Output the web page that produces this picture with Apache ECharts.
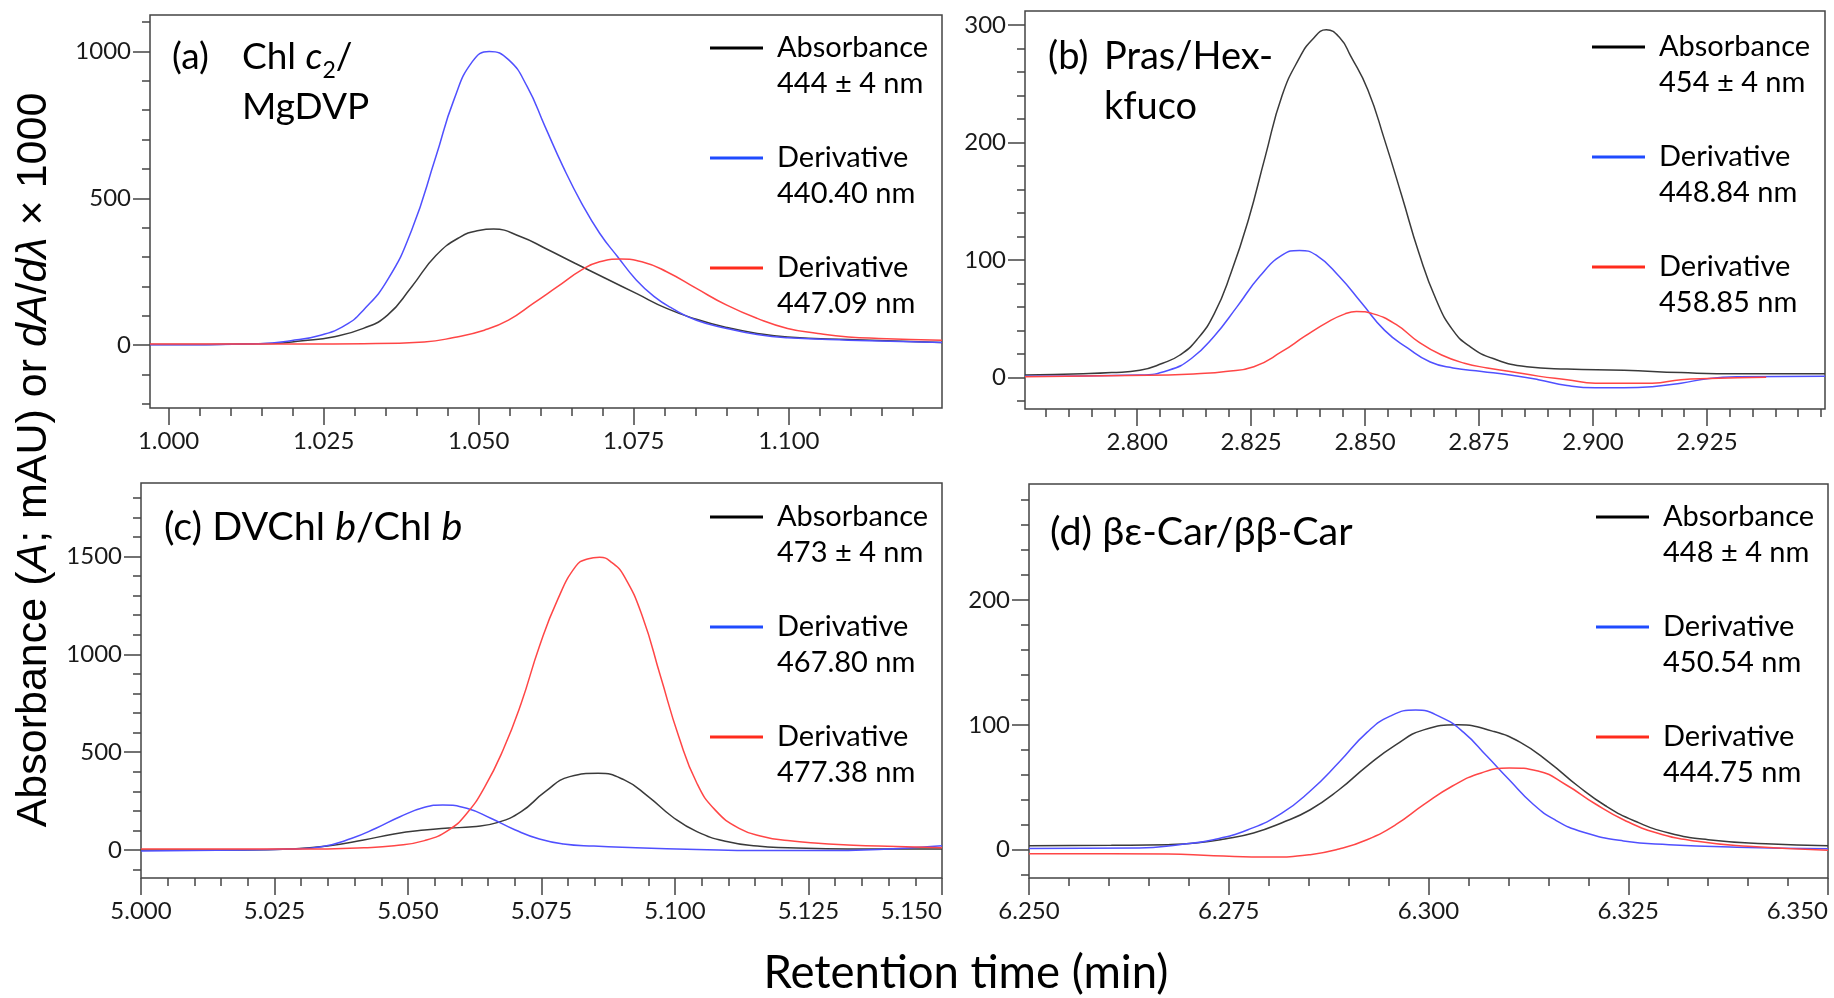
<!DOCTYPE html>
<html lang="en">
<head>
<meta charset="UTF-8">
<title>Derivative chromatograms</title>
<script src="https://cdn.jsdelivr.net/npm/echarts@6/dist/echarts.min.js"></script>
<style>
  * { padding: 0; margin: 0; }
  body { background: #fff; }
  #main { width: 1834px; height: 998px; }
</style>
</head>
<body>
<div id="main"></div>
<script>
  var inkColor = '#1a1a1a';
  var frameColor = '#444';
  var curveColors = ['#3a3a3a', '#5050ff', '#ff4646'];
  var keyColors = ['#000000', '#1f4bff', '#ff2b1c'];
  var labelFont = 'Lato, "Open Sans", sans-serif';

  // (a) Chl c2 / MgDVP   [time (min), value]
  var aNames = ['Absorbance\n444 ± 4 nm', 'Derivative\n440.40 nm', 'Derivative\n447.09 nm'];
  var aBlack = [[0.997, 2], [1.0167, 6], [1.0216, 15], [1.0265, 28], [1.0314, 57], [1.0353, 102], [1.0392, 199],
    [1.0431, 305], [1.0470, 368], [1.0500, 390], [1.0524, 395], [1.0568, 369], [1.0607, 330], [1.0656, 278],
    [1.0705, 227], [1.0754, 176], [1.0803, 125], [1.0851, 88], [1.0900, 60], [1.0949, 40], [1.0998, 28],
    [1.1096, 19], [1.1247, 9]];
  var aBlue = [[0.997, 1], [1.0148, 5], [1.0197, 15], [1.0245, 34], [1.0285, 68], [1.0314, 119], [1.0353, 222],
    [1.0392, 392], [1.0431, 642], [1.0460, 835], [1.0490, 966], [1.0517, 1000], [1.0548, 972], [1.0578, 881],
    [1.0607, 744], [1.0636, 608], [1.0666, 483], [1.0695, 381], [1.0724, 301], [1.0754, 222], [1.0783, 165],
    [1.0812, 125], [1.0851, 85], [1.0900, 57], [1.0949, 36], [1.0998, 25], [1.1096, 17], [1.1247, 9]];
  var aRed = [[0.997, 4], [1.0216, 4], [1.0314, 5], [1.0412, 11], [1.0460, 26], [1.0509, 51], [1.0548, 85],
    [1.0588, 142], [1.0627, 199], [1.0666, 256], [1.0695, 284], [1.0729, 293], [1.0763, 284], [1.0803, 250],
    [1.0851, 193], [1.0900, 136], [1.0949, 91], [1.0998, 57], [1.1047, 40], [1.1096, 28], [1.1145, 23], [1.1247, 17]];
  var aXTicks = [1.000, 1.025, 1.050, 1.075, 1.100];
  var aYTicks = [0, 500, 1000];

  // (b) Pras / Hex-kfuco
  var bNames = ['Absorbance\n454 ± 4 nm', 'Derivative\n448.84 nm', 'Derivative\n458.85 nm'];
  var bBlack = [[2.7754, 2], [2.7881, 3], [2.7944, 4], [2.8006, 6], [2.8056, 12], [2.8094, 19], [2.8131, 32],
    [2.8169, 54], [2.8206, 89], [2.8244, 134], [2.8281, 188], [2.8318, 240], [2.8356, 272], [2.8385, 288],
    [2.8415, 296], [2.8445, 289], [2.8468, 274], [2.8506, 245], [2.8543, 202], [2.8581, 154], [2.8618, 106],
    [2.8656, 66], [2.8693, 40], [2.8731, 26], [2.8781, 16], [2.8855, 9], [2.8943, 7], [2.9068, 6], [2.9193, 4],
    [2.9318, 3], [2.9509, 3]];
  var bBlue = [[2.7754, 1], [2.8006, 2], [2.8069, 6], [2.8119, 16], [2.8169, 35], [2.8219, 60], [2.8269, 86],
    [2.8318, 104], [2.8356, 108], [2.8393, 104], [2.8443, 86], [2.8493, 63], [2.8543, 40], [2.8593, 25],
    [2.8643, 13], [2.8693, 8], [2.8756, 5], [2.8818, 2], [2.8880, -2], [2.8943, -7], [2.9005, -9], [2.9068, -9],
    [2.9130, -8], [2.9193, -5], [2.9255, -1], [2.9318, 0.5], [2.9509, 1]];
  var bRed = [[2.7754, 0.5], [2.8069, 2], [2.8131, 3], [2.8194, 5], [2.8256, 9], [2.8318, 22], [2.8368, 35],
    [2.8418, 47], [2.8456, 54], [2.8481, 56], [2.8518, 54], [2.8568, 45], [2.8618, 30], [2.8668, 19],
    [2.8718, 12], [2.8768, 8], [2.8818, 5], [2.8880, 1], [2.8943, -2], [2.9005, -5], [2.9068, -5], [2.9130, -5],
    [2.9193, -2], [2.9255, -1], [2.9380, 0]];
  var bXTicks = [2.800, 2.825, 2.850, 2.875, 2.900, 2.925];
  var bYTicks = [0, 100, 200, 300];

  // (c) DVChl b / Chl b
  var cNames = ['Absorbance\n473 ± 4 nm', 'Derivative\n467.80 nm', 'Derivative\n477.38 nm'];
  var cBlack = [[5.000, 0], [5.0190, 0], [5.0281, 5], [5.0349, 20], [5.0417, 51], [5.0474, 82], [5.0531, 102],
    [5.0576, 112], [5.0621, 119], [5.0667, 140], [5.0712, 196], [5.0757, 298], [5.0803, 375], [5.0856, 392],
    [5.0905, 358], [5.0950, 273], [5.0995, 170], [5.1041, 94], [5.1097, 43], [5.1154, 20], [5.1211, 12],
    [5.1324, 5], [5.150, 5]];
  var cBlue = [[5.000, -5], [5.0190, 0], [5.0281, 5], [5.0338, 17], [5.0395, 60], [5.0440, 111], [5.0485, 170],
    [5.0531, 218], [5.0565, 230], [5.0610, 213], [5.0655, 162], [5.0701, 102], [5.0746, 56], [5.0791, 31],
    [5.0848, 20], [5.0927, 12], [5.1041, 3], [5.1154, -3], [5.1268, -3], [5.1381, 3], [5.150, 22]];
  var cRed = [[5.000, 5], [5.0190, 5], [5.0304, 5], [5.0417, 12], [5.0474, 22], [5.0531, 48], [5.0576, 102],
    [5.0610, 187], [5.0644, 324], [5.0678, 511], [5.0712, 750], [5.0746, 1040], [5.0780, 1278], [5.0814, 1449],
    [5.0836, 1487], [5.0859, 1496], [5.0882, 1468], [5.0905, 1398], [5.0939, 1193], [5.0973, 886], [5.1007, 580],
    [5.1041, 341], [5.1075, 205], [5.1120, 111], [5.1166, 68], [5.1211, 48], [5.1268, 34], [5.1324, 26],
    [5.1381, 20], [5.150, 12]];
  var cXTicks = [5.000, 5.025, 5.050, 5.075, 5.100, 5.125, 5.150];
  var cYTicks = [0, 500, 1000, 1500];

  // (d) be-Car / bb-Car
  var dNames = ['Absorbance\n448 ± 4 nm', 'Derivative\n450.54 nm', 'Derivative\n444.75 nm'];
  var dBlack = [[6.250, 3.2], [6.2603, 3.5], [6.2674, 4], [6.2709, 5.3], [6.2745, 8.6], [6.2781, 13.4],
    [6.2816, 21.4], [6.2852, 32], [6.2888, 48], [6.2923, 67], [6.2959, 84], [6.2994, 96], [6.3037, 100],
    [6.3080, 95], [6.3115, 86], [6.3151, 70], [6.3187, 51], [6.3222, 35], [6.3258, 23], [6.3301, 13.4],
    [6.3350, 8], [6.3422, 4.8], [6.350, 3.2]];
  var dBlue = [[6.250, 1], [6.2638, 1.3], [6.2688, 4], [6.2731, 8], [6.2774, 16], [6.2816, 29], [6.2852, 47],
    [6.2888, 70], [6.2923, 94], [6.2952, 107], [6.2984, 112], [6.3016, 106], [6.3044, 94], [6.3073, 75],
    [6.3101, 56], [6.3130, 37], [6.3158, 24], [6.3194, 14], [6.3244, 7], [6.3301, 4], [6.3386, 2], [6.350, 0.8]];
  var dRed = [[6.250, -3.2], [6.2603, -3.2], [6.2674, -3.5], [6.2731, -4.8], [6.2802, -5.9], [6.2852, -4],
    [6.2888, 0.5], [6.2923, 8], [6.2959, 20], [6.2994, 36], [6.3030, 51], [6.3066, 61.5], [6.3101, 65.5],
    [6.3137, 63], [6.3172, 52], [6.3208, 37], [6.3244, 24], [6.3286, 13.4], [6.3336, 6.7], [6.3400, 2.7],
    [6.350, -0.5]];
  var dXTicks = [6.250, 6.275, 6.300, 6.325, 6.350];
  var dYTicks = [0, 100, 200];

  function steps(lo, hi, step) {
    var out = [];
    var n = Math.round((hi - lo) / step);
    for (var i = 0; i <= n; i++) out.push(+(lo + i * step).toFixed(4));
    return out;
  }

  var panels = [
    {rect: [150, 15, 792, 393], x: [0.997, 1.1247], y: [-214, 1124], xTicks: aXTicks, yTicks: aYTicks,
      xMinor: steps(1.000, 1.120, 0.005), yMinor: steps(-200, 1100, 100),
      lines: [aBlack, aBlue, aRed], names: aNames, key: [710, -6], lastAtEdge: false},
    {rect: [1025, 11, 800, 398], x: [2.7754, 2.9509], y: [-27, 312], xTicks: bXTicks, yTicks: bYTicks,
      xMinor: steps(2.780, 2.950, 0.005), yMinor: steps(-20, 300, 20),
      lines: [bBlack, bBlue, bRed], names: bNames, key: [1592, -7], lastAtEdge: false},
    {rect: [141, 483, 801, 395], x: [5.000, 5.150], y: [-143, 1875], xTicks: cXTicks, yTicks: cYTicks,
      xMinor: steps(5.000, 5.150, 0.005), yMinor: steps(-100, 1800, 100),
      lines: [cBlack, cBlue, cRed], names: cNames, key: [710, 463], lastAtEdge: true},
    {rect: [1029, 484, 799, 394], x: [6.250, 6.350], y: [-22.7, 293], xTicks: dXTicks, yTicks: dYTicks,
      xMinor: steps(6.250, 6.350, 0.005), yMinor: steps(-20, 280, 20),
      lines: [dBlack, dBlue, dRed], names: dNames, key: [1596, 463], lastAtEdge: true}
  ];

  var tickLine = {color: frameColor, width: 1.5};
  var tickText = {fontFamily: labelFont, fontSize: 24, color: inkColor};
  var keyText = {fontFamily: labelFont, fontSize: 29, lineHeight: 36, color: '#000'};

  var grid = [], xAxis = [], yAxis = [], series = [], legend = [];
  panels.forEach(function (p, i) {
    grid.push({left: p.rect[0], top: p.rect[1], width: p.rect[2], height: p.rect[3], outerBoundsMode: 'none',
      show: true, borderColor: frameColor, borderWidth: 1.5, backgroundColor: 'transparent'});
    [true, false].forEach(function (major) {
      xAxis.push({
        type: 'value', gridIndex: i, min: p.x[0], max: p.x[1], position: 'bottom',
        axisLine: {show: false, onZero: false}, splitLine: {show: false},
        axisTick: {show: true, length: major ? 17 : 8, customValues: major ? p.xTicks : p.xMinor, lineStyle: tickLine},
        axisLabel: major ? Object.assign({show: true, customValues: p.xTicks, margin: 21,
          alignMaxLabel: p.lastAtEdge ? 'right' : null,
          formatter: function (v) { return v.toFixed(3); }}, tickText) : {show: false}
      });
      yAxis.push({
        type: 'value', gridIndex: i, min: p.y[0], max: p.y[1], position: 'left',
        axisLine: {show: false, onZero: false}, splitLine: {show: false},
        axisTick: {show: true, length: major ? 17 : 8, customValues: major ? p.yTicks : p.yMinor, lineStyle: tickLine},
        axisLabel: major ? Object.assign({show: true, customValues: p.yTicks, margin: 19,
          formatter: function (v) { return String(v); }}, tickText) : {show: false}
      });
    });
    p.lines.forEach(function (pts, k) {
      series.push({
        type: 'line', name: p.names[k], xAxisIndex: 2 * i, yAxisIndex: 2 * i,
        data: pts, smooth: 0.5, showSymbol: false, symbol: 'none', silent: true,
        lineStyle: {color: curveColors[k], width: 1.5}, itemStyle: {color: curveColors[k]}
      });
    });
    legend.push({
      orient: 'vertical', left: p.key[0], top: p.key[1], padding: 0, itemGap: 2,
      icon: 'rect', itemWidth: 53, itemHeight: 3, selectedMode: false,
      data: p.names.map(function (n, k) { return {name: n, itemStyle: {color: keyColors[k]}}; }),
      formatter: function (n) {
        var rows = n.split('\n');
        return '\n{g|}{t|' + rows[0] + '}\n{g|}{t|' + rows[1] + '}';
      },
      textStyle: {rich: {t: keyText, g: {width: 9, lineHeight: 36}}, lineHeight: 36}
    });
  });

  function bigText(size) {
    return {fontFamily: labelFont, fontSize: size, fontWeight: 'normal', lineHeight: 50, color: '#000'};
  }
  function rich(size) {
    var big = bigText(size);
    return {
      t: big,
      i: Object.assign({}, big, {fontStyle: 'italic'}),
      s: Object.assign({}, big, {fontSize: 23, verticalAlign: 'bottom'})
    };
  }
  var title = [
    {text: '(a)', left: 172, top: 32, padding: 0, textStyle: bigText(37)},
    {text: '{t|Chl }{i|c}{s|2}{t|/}\n{t|MgDVP}', left: 242, top: 32, padding: 0,
      textStyle: {fontWeight: 'normal', rich: rich(37)}},
    {text: '(b)', left: 1048, top: 32, padding: 0, textStyle: bigText(38)},
    {text: '{t|Pras/Hex-}\n{t|kfuco}', left: 1104, top: 32, padding: 0,
      textStyle: {fontWeight: 'normal', rich: rich(38)}},
    {text: '{t|(c) DVChl }{i|b}{t|/Chl }{i|b}', left: 164, top: 502, padding: 0,
      textStyle: {fontWeight: 'normal', rich: rich(39.5)}},
    {text: '{t|(d) βε-Car/ββ-Car}', left: 1050, top: 507, padding: 0,
      textStyle: {fontWeight: 'normal', rich: rich(39.5)}}
  ];

  var axisTitle = {fontFamily: '"Liberation Sans", Arial, sans-serif', fontSize: 43, fill: '#000'};
  var graphic = [
    {type: 'text', x: 34, y: 460, rotation: Math.PI / 2, silent: true,
      style: {
        text: '{n|Absorbance (}{i|A}{n|; mAU) or }{i|dA}{n|/}{i|dλ}{n| × 1000}',
        align: 'center', verticalAlign: 'middle',
        rich: {n: axisTitle, i: Object.assign({}, axisTitle, {fontStyle: 'italic'})}
      }},
    {type: 'text', x: 966, y: 973, silent: true,
      style: {text: 'Retention time (min)', align: 'center', verticalAlign: 'middle',
        fontFamily: labelFont, fontSize: 45.5, fill: '#000'}}
  ];

  var chart = echarts.init(document.getElementById('main'));
  chart.setOption({
    animation: false,
    backgroundColor: '#fff',
    title: title,
    legend: legend,
    grid: grid,
    xAxis: xAxis,
    yAxis: yAxis,
    series: series,
    graphic: graphic
  });
</script>
</body>
</html>
